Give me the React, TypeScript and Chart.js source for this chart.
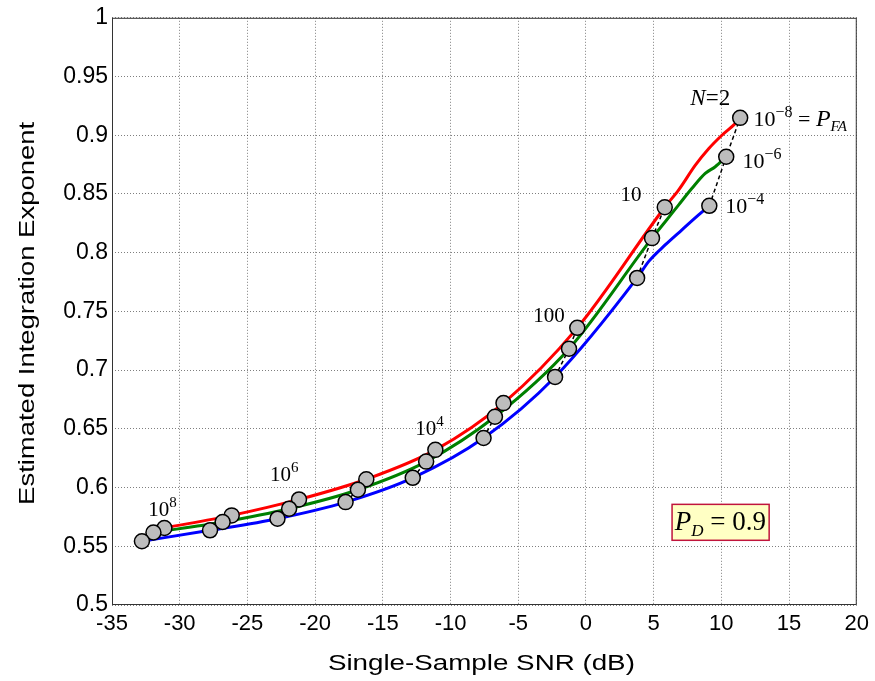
import React, { useEffect, useRef } from "react";
import { Chart, registerables } from "chart.js";
Chart.register(...registerables);

// Axis ticks
const xTicks = [-35, -30, -25, -20, -15, -10, -5, 0, 5, 10, 15, 20];
const yTicks = [0.5, 0.55, 0.6, 0.65, 0.7, 0.75, 0.8, 0.85, 0.9, 0.95, 1];
const xTitle = "Single-Sample SNR (dB)";
const yTitle = "Estimated Integration Exponent";

// Markers at N = 1e8, 1e7, 1e6, 1e5, 1e4, 1e3, 100, 10, 2
const markerN = ["1e8", "1e7", "1e6", "1e5", "1e4", "1e3", "100", "10", "2"];
const snrMarkBlue = [-32.79, -27.76, -22.78, -17.75, -12.79, -7.56, -2.28, 3.78, 9.11];
const expMarkBlue = [0.5543, 0.5636, 0.5735, 0.5876, 0.6083, 0.6422, 0.6942, 0.7785, 0.8399];
const snrMarkGreen = [-31.94, -26.83, -21.92, -16.84, -11.8, -6.72, -1.25, 4.88, 10.36];
const expMarkGreen = [0.5617, 0.5707, 0.582, 0.5981, 0.6221, 0.6603, 0.7182, 0.8124, 0.8817];
const snrMarkRed = [-31.13, -26.16, -21.19, -16.22, -11.12, -6.09, -0.64, 5.82, 11.39];
const expMarkRed = [0.5656, 0.5763, 0.5899, 0.6071, 0.6321, 0.6719, 0.736, 0.8387, 0.9148];

// Curves (PFA = 1e-4 blue, 1e-6 green, 1e-8 red)
const snrBlue = [-32.79, -27.76, -22.78, -17.75, -12.79, -7.56, -2.28, 3.78, 4.64, 5.87, 7.09, 8.32, 9.11];
const expBlue = [0.5543, 0.5636, 0.5735, 0.5876, 0.6083, 0.6422, 0.6942, 0.7785, 0.7926, 0.8068, 0.8195, 0.8322, 0.8399];
const snrGreen = [-31.94, -26.83, -21.92, -16.84, -11.8, -6.72, -1.25, 4.88, 5.87, 6.85, 7.83, 8.81, 9.55, 10.36];
const expGreen = [0.5617, 0.5707, 0.582, 0.5981, 0.6221, 0.6603, 0.7182, 0.8124, 0.8266, 0.8407, 0.8548, 0.8675, 0.8732, 0.8817];
const snrRed = [-31.13, -26.16, -21.19, -16.22, -11.12, -6.09, -0.64, 5.82, 6.85, 8.08, 9.06, 10.04, 11.02, 11.39];
const expRed = [0.5656, 0.5763, 0.5899, 0.6071, 0.6321, 0.6719, 0.736, 0.8387, 0.8535, 0.8745, 0.8885, 0.9, 0.9099, 0.9148];

type Seg = { t: string; size: number; italic?: boolean; dy?: number };
type Ann = { x: number; y: number; segs: Seg[] };

const SERIF = '"Liberation Serif", "Times New Roman", serif';
const SANS = '"Liberation Sans", Arial, sans-serif';

const annotations: Ann[] = [
  { x: -32.33, y: 0.5755, segs: [{ t: "10", size: 21 }, { t: "8", size: 15, dy: -9 }] },
  { x: -23.34, y: 0.606, segs: [{ t: "10", size: 21 }, { t: "6", size: 15, dy: -9 }] },
  { x: -12.61, y: 0.645, segs: [{ t: "10", size: 21 }, { t: "4", size: 15, dy: -9 }] },
  { x: -3.9, y: 0.741, segs: [{ t: "100", size: 21 }] },
  { x: 2.56, y: 0.8444, segs: [{ t: "10", size: 21 }] },
  { x: 7.71, y: 0.9258, segs: [{ t: "N", size: 23, italic: true }, { t: "=2", size: 23 }] },
  {
    x: 12.37, y: 0.9077,
    segs: [
      { t: "10", size: 22 }, { t: "\u22128", size: 16, dy: -9 }, { t: " = ", size: 22 },
      { t: "P", size: 24, italic: true }, { t: "FA", size: 15, italic: true, dy: 5 },
    ],
  },
  { x: 11.56, y: 0.8718, segs: [{ t: "10", size: 22 }, { t: "\u22126", size: 16, dy: -9 }] },
  { x: 10.29, y: 0.8336, segs: [{ t: "10", size: 22 }, { t: "\u22124", size: 16, dy: -9 }] },
];

const pdBox = { x0: 6.36, x1: 13.53, y0: 0.5857, y1: 0.5551, tx: 6.55, ty: 0.5636 };

function drawRich(ctx: CanvasRenderingContext2D, x: number, y: number, segs: Seg[]) {
  let cx = x;
  ctx.textBaseline = "alphabetic";
  ctx.textAlign = "left";
  for (const s of segs) {
    ctx.font = `${s.italic ? "italic " : ""}${s.size}px ${SERIF}`;
    ctx.fillText(s.t, cx, y + (s.dy || 0));
    cx += ctx.measureText(s.t).width;
  }
}

function drawStretched(ctx: CanvasRenderingContext2D, text: string, cx: number, cy: number, rot: number, len: number, size: number) {
  ctx.save();
  ctx.font = `${size}px ${SANS}`;
  const w = ctx.measureText(text).width;
  ctx.translate(cx, cy);
  ctx.rotate(rot);
  ctx.scale(len / w, 1);
  ctx.textAlign = "center";
  ctx.textBaseline = "alphabetic";
  ctx.fillStyle = "#000";
  ctx.fillText(text, 0, 0);
  ctx.restore();
}

const overlayPlugin = {
  id: "overlay",
  afterDraw(chart: any) {
    const { ctx, chartArea, scales } = chart;
    const xs = scales.x, ys = scales.y;
    ctx.save();
    // box border
    ctx.strokeStyle = "#333";
    ctx.lineWidth = 1;
    ctx.setLineDash([]);
    ctx.strokeRect(chartArea.left + 0.5, chartArea.top + 0.5, chartArea.right - chartArea.left - 1, chartArea.bottom - chartArea.top - 1);
    // axis titles
    const midX = (chartArea.left + chartArea.right) / 2;
    const midY = (chartArea.top + chartArea.bottom) / 2;
    drawStretched(ctx, xTitle, midX - 3, 670, 0, 307, 22);
    drawStretched(ctx, yTitle, 34, midY + 2, -Math.PI / 2, 383, 22);
    // annotations
    ctx.fillStyle = "#000";
    for (const a of annotations) {
      drawRich(ctx, xs.getPixelForValue(a.x), ys.getPixelForValue(a.y), a.segs);
    }
    // PD box
    const bx0 = xs.getPixelForValue(pdBox.x0), bx1 = xs.getPixelForValue(pdBox.x1);
    const by0 = ys.getPixelForValue(pdBox.y0), by1 = ys.getPixelForValue(pdBox.y1);
    ctx.fillStyle = "#ffffc4";
    ctx.fillRect(bx0, by0, bx1 - bx0, by1 - by0);
    ctx.strokeStyle = "#c0143c";
    ctx.lineWidth = 1.5;
    ctx.strokeRect(bx0, by0, bx1 - bx0, by1 - by0);
    ctx.fillStyle = "#000";
    drawRich(ctx, xs.getPixelForValue(pdBox.tx), ys.getPixelForValue(pdBox.ty), [
      { t: "P", size: 27, italic: true },
      { t: "D", size: 17, italic: true, dy: 6 },
      { t: " = 0.9", size: 27 },
    ]);
    ctx.restore();
  },
};

function pts(xa: number[], ya: number[]) {
  return xa.map((x, i) => ({ x, y: ya[i] }));
}

export default function App() {
  const ref = useRef<HTMLCanvasElement | null>(null);
  useEffect(() => {
    if (!ref.current) return;
    const curve = (data: any, color: string) => ({
      type: "line",
      data,
      borderColor: color,
      backgroundColor: color,
      borderWidth: 3,
      pointRadius: 0,
      cubicInterpolationMode: "monotone",
      fill: false,
      order: 3,
    });
    const connectors = markerN.map((n, i) => ({
      type: "line",
      label: "N=" + n,
      data: [
        { x: snrMarkBlue[i], y: expMarkBlue[i] },
        { x: snrMarkGreen[i], y: expMarkGreen[i] },
        { x: snrMarkRed[i], y: expMarkRed[i] },
      ],
      borderColor: "#000",
      borderWidth: 1.5,
      borderDash: [4, 3],
      pointRadius: 0,
      tension: 0,
      fill: false,
      order: 2,
    }));
    const markers = (data: any) => ({
      type: "scatter",
      data,
      showLine: false,
      pointRadius: 7.5,
      pointBackgroundColor: "#bdbdbd",
      pointBorderColor: "#000",
      pointBorderWidth: 1.5,
      order: 1,
    });
    const chart = new Chart(ref.current, {
      type: "line",
      data: {
        datasets: [
          curve(pts(snrBlue, expBlue), "#0000ff"),
          curve(pts(snrGreen, expGreen), "#008000"),
          curve(pts(snrRed, expRed), "#ff0000"),
          ...connectors,
          markers(pts(snrMarkBlue, expMarkBlue)),
          markers(pts(snrMarkGreen, expMarkGreen)),
          markers(pts(snrMarkRed, expMarkRed)),
        ] as any,
      },
      options: {
        animation: false,
        responsive: true,
        maintainAspectRatio: false,
        layout: { padding: { top: 15, right: 16, left: 0, bottom: 0 } },
        plugins: { legend: { display: false }, tooltip: { enabled: false } },
        scales: {
          x: {
            type: "linear",
            min: -35,
            max: 20,
            afterBuildTicks: (s: any) => { s.ticks = xTicks.map((v) => ({ value: v })); },
            afterFit: (s: any) => { s.height = 76; },
            ticks: { color: "#000", font: { family: SANS, size: 22 }, padding: 6, autoSkip: false, maxRotation: 0 },
            grid: { color: "rgba(0,0,0,0.5)", drawTicks: false, lineWidth: 1 },
            border: { display: false, dash: [1, 2] },
            title: { display: false, text: xTitle },
          },
          y: {
            type: "linear",
            min: 0.5,
            max: 1,
            afterBuildTicks: (s: any) => { s.ticks = yTicks.map((v) => ({ value: v })); },
            afterFit: (s: any) => { s.width = 112; },
            ticks: {
              color: "#000",
              font: { family: SANS, size: 23 },
              padding: 4,
              autoSkip: false,
              callback: (v: any) => String(Number(Number(v).toFixed(2))),
            },
            grid: { color: "rgba(0,0,0,0.5)", drawTicks: false, lineWidth: 1 },
            border: { display: false, dash: [1, 2] },
            title: { display: false, text: yTitle },
          },
        },
      },
      plugins: [overlayPlugin],
    } as any);
    return () => chart.destroy();
  }, []);
  return (
    <div style={{ position: "fixed", left: 0, top: 0, width: 875, height: 681, background: "#fff" }}>
      <canvas ref={ref} />
    </div>
  );
}
